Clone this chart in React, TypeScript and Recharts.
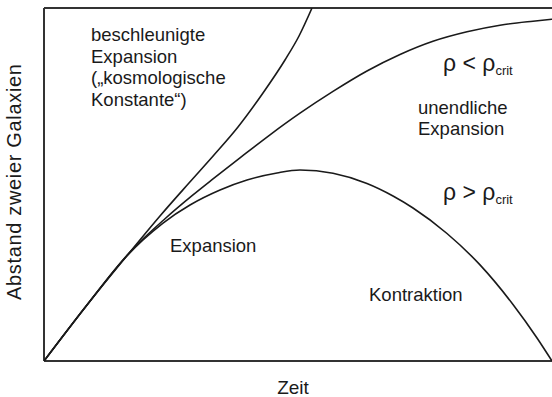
import { LineChart, Line, XAxis, YAxis, ReferenceLine } from 'recharts'

// Friedmann-Kurven: Abstand über Zeit (0..100 in beiden Richtungen)
const accelerated = [
  { t: 0, d: 0 },
  { t: 8.46, d: 15.86 },
  { t: 16.93, d: 30.88 },
  { t: 22.83, d: 41.08 },
  { t: 28.54, d: 50.42 },
  { t: 33.46, d: 58.36 },
  { t: 38.19, d: 66.29 },
  { t: 43.11, d: 75.92 },
  { t: 47.44, d: 85.27 },
  { t: 50.2, d: 92.07 },
  { t: 52.76, d: 100 },
]

const openUniverse = [
  { t: 0, d: 0 },
  { t: 8.46, d: 15.86 },
  { t: 16.93, d: 30.88 },
  { t: 23.82, d: 40.3 },
  { t: 29.33, d: 47.04 },
  { t: 33.27, d: 51.57 },
  { t: 38.58, d: 57.54 },
  { t: 44.49, d: 64.08 },
  { t: 50.39, d: 70.2 },
  { t: 56.89, d: 76.37 },
  { t: 63.58, d: 82.15 },
  { t: 70.08, d: 86.83 },
  { t: 76.57, d: 90.57 },
  { t: 83.27, d: 93.26 },
  { t: 89.76, d: 95.13 },
  { t: 96.26, d: 96.26 },
  { t: 100, d: 96.8 },
]

const closedUniverse = [
  { t: 0, d: 0 },
  { t: 8.46, d: 15.86 },
  { t: 15.94, d: 29.18 },
  { t: 19.49, d: 34.28 },
  { t: 23.43, d: 39.09 },
  { t: 28.74, d: 44.19 },
  { t: 34.65, d: 48.44 },
  { t: 39.96, d: 51.27 },
  { t: 45.87, d: 53.26 },
  { t: 50.39, d: 54.11 },
  { t: 56.89, d: 53.17 },
  { t: 63.58, d: 50.28 },
  { t: 68.7, d: 46.74 },
  { t: 72.64, d: 43.34 },
  { t: 79.33, d: 36.12 },
  { t: 85.83, d: 27.22 },
  { t: 92.32, d: 16.01 },
  { t: 97.05, d: 6.52 },
  { t: 100, d: 0 },
]

const acceleratedLabel = ['beschleunigte', 'Expansion', '(„kosmologische', 'Konstante“)']
const openLabel = ['unendliche', 'Expansion']

const font = '"Liberation Sans", Arial, sans-serif'
const ink = '#1a1a1a'
const frame = '#333'

export default function App() {
  return (
    <div style={{ position: 'absolute', left: 0, top: 0, width: 552, height: 397, background: '#fff' }}>
      <LineChart width={552} height={397} margin={{ top: 8, right: 0, bottom: 36, left: 44 }}>
        <XAxis type="number" dataKey="t" domain={[0, 100]} hide allowDataOverflow />
        <YAxis type="number" dataKey="d" domain={[0, 100]} hide allowDataOverflow />
        <ReferenceLine y={100} stroke={frame} strokeWidth={2} />
        <ReferenceLine y={0} stroke={frame} strokeWidth={2} />
        <ReferenceLine x={0} stroke={frame} strokeWidth={2} />
        <Line data={accelerated} dataKey="d" type="monotone" stroke={ink} strokeWidth={1.6} dot={false} isAnimationActive={false} />
        <Line data={openUniverse} dataKey="d" type="monotone" stroke={ink} strokeWidth={1.6} dot={false} isAnimationActive={false} />
        <Line data={closedUniverse} dataKey="d" type="monotone" stroke={ink} strokeWidth={1.6} dot={false} isAnimationActive={false} />
      </LineChart>

      <svg width={552} height={397} style={{ position: 'absolute', left: 0, top: 0, pointerEvents: 'none' }}>
        <g fontFamily={font} fill={ink} fontSize={18.5}>
          {acceleratedLabel.map((line, i) => (
            <text key={line} x={91} y={41 + i * 21.7}>{line}</text>
          ))}
          {openLabel.map((line, i) => (
            <text key={line + i} x={418} y={114 + i * 21}>{line}</text>
          ))}
          <text x={170} y={252}>Expansion</text>
          <text x={369} y={301}>Kontraktion</text>
          <text x={293} y={394} textAnchor="middle" fontSize={19}>Zeit</text>
          <text
            x={0}
            y={0}
            fontSize={20}
            textAnchor="middle"
            textLength={236}
            lengthAdjust="spacing"
            transform="translate(21 182) rotate(-90)"
          >
            Abstand zweier Galaxien
          </text>
          <text x={443} y={71} fontSize={23}>
            ρ &lt; ρ<tspan fontSize={13} dy={4}>crit</tspan>
          </text>
          <text x={443} y={200} fontSize={23}>
            ρ &gt; ρ<tspan fontSize={13} dy={4}>crit</tspan>
          </text>
        </g>
      </svg>
    </div>
  )
}
